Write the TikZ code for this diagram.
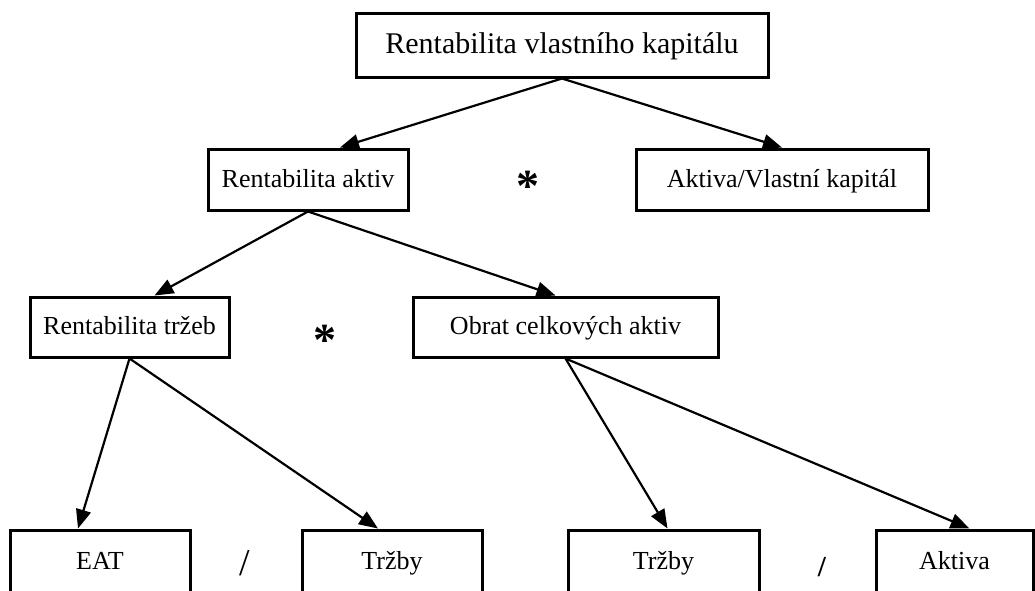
\documentclass[tikz,border=0pt]{standalone}
\usepackage{fontspec}
\setmainfont{Liberation Serif}
\usetikzlibrary{arrows.meta}
\tikzset{tblock/.style = {draw, line width=3pt, rectangle, minimum height=64pt, minimum width=412pt, text height=22pt, text depth=6pt, font=\fontsize{30}{36}\selectfont},
         block/.style = {draw, line width=3pt, rectangle, minimum height=61pt, text height=20pt, text depth=5pt, font=\fontsize{26}{31}\selectfont},
         bblock/.style = {block, minimum height=64pt},
         op/.style = {inner sep=0pt, anchor=base, font=\fontsize{46}{50}\selectfont\bfseries},
         link/.style = {->, line width=2.2pt}}

\begin{document}
\begin{tikzpicture}[x=1pt,y=-1pt,>={Triangle[length=19pt,width=15pt]}]
        \useasboundingbox (0,0) rectangle (1035,590);
        \clip (0,0) rectangle (1035,590);
        % upper levels
        \node[tblock](top)at(562,45){Rentabilita vlastního kapitálu};
        \node[block,minimum width=200pt](ra)at(308,179.5){Rentabilita aktiv};
        \node[op](star1)at(528,201){*};
        \node[block,minimum width=292pt](avk)at(782,179.5){Aktiva/Vlastní kapitál};
        \node[block,minimum width=199pt,minimum height=60pt](rt)at(129.5,327){Rentabilita tržeb};
        \node[op](star2)at(325,355){*};
        \node[block,minimum width=305pt,minimum height=60pt](oca)at(565.5,327){Obrat celkových aktiv};
        % bottom level
        \node[bblock,minimum width=180pt](eat)at(100,562){EAT};
        \node[op,font=\fontsize{38}{40}\selectfont](div1)at(245,575){/};
        \node[bblock,minimum width=180pt](trz1)at(392,562){Tržby};
        \node[bblock,minimum width=191pt](trz2)at(663.5,562){Tržby};
        \node[op,font=\fontsize{29}{32}\selectfont\bfseries](div2)at(822,576){/};
        \node[bblock,minimum width=157pt](akt)at(954.5,562){Aktiva};

        \draw[link](top.south)--([xshift=32]ra.north);
        \draw[link](top.south)--(avk.north);
        \draw[link](ra.south)--([xshift=25]rt.north);
        \draw[link](ra.south)--([xshift=-10]oca.north);
        \draw[link](rt.south)--([xshift=-22]eat.north);
        \draw[link](rt.south)--([xshift=-14]trz1.north);
        \draw[link](oca.south)--([xshift=4]trz2.north);
        \draw[link](oca.south)--([xshift=15]akt.north);
    \end{tikzpicture}
\end{document}
